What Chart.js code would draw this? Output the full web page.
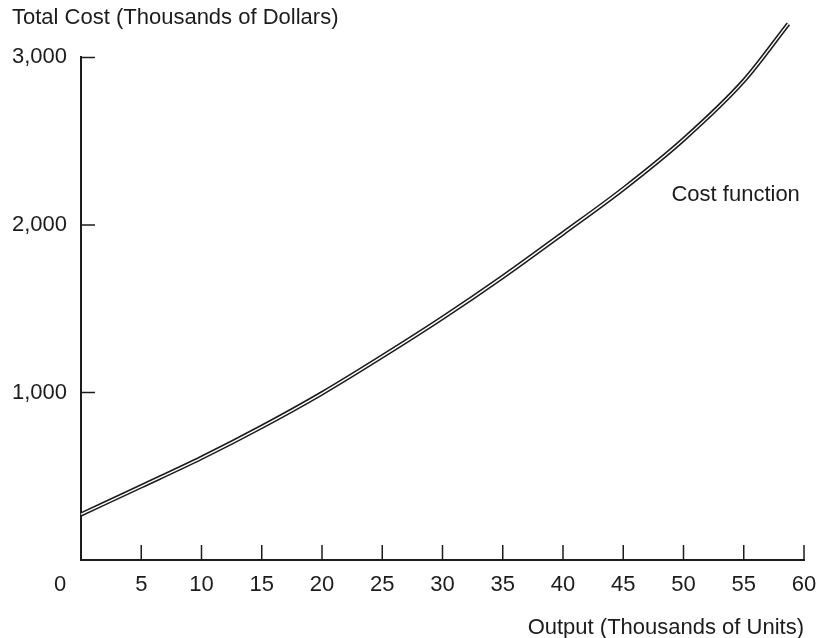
<!DOCTYPE html>
<html>
<head>
<meta charset="utf-8">
<script src="https://cdn.jsdelivr.net/npm/chart.js@4.4.0/dist/chart.umd.min.js"></script>
<style>
body { margin: 0; background: #fff; }
</style>
</head>
<body>
<canvas id="cost-chart" width="817" height="638"></canvas>
<script>
// values (thousands of units / thousands of dollars)
var output = [0, 5, 10, 15, 20, 25, 30, 35, 40, 45, 50, 55, 58.7];
var totalCost = [272, 440, 610, 795, 995, 1215, 1445, 1690, 1950, 2215, 2510, 2860, 3200];
var xTicks = [0, 5, 10, 15, 20, 25, 30, 35, 40, 45, 50, 55, 60];
var yTicks = [0, 1000, 2000, 3000];
var curveLabel = 'Cost function';
var curveLabelAt = [49, 2180];

var ink = '#1c1c1c';
var font = { family: '"Liberation Sans", Arial, Helvetica, sans-serif', size: 22 };
var fontCss = '22px "Liberation Sans", Arial, Helvetica, sans-serif';

var points = output.map(function(x, i) {
    return { x: x, y: totalCost[i] };
});

// ticks point inward, plus the shared "0" and the curve label
var extras = {
    id: 'extras',
    afterDraw: function(chart) {
        var c = chart.ctx;
        var xs = chart.scales.x;
        var ys = chart.scales.y;
        var area = chart.chartArea;
        c.save();
        c.strokeStyle = ink;
        c.lineWidth = 1.5;
        c.beginPath();
        xTicks.forEach(function(v) {
            if (v === 0) return;
            var px = xs.getPixelForValue(v);
            c.moveTo(px, area.bottom);
            c.lineTo(px, area.bottom - 15);
        });
        yTicks.forEach(function(v) {
            if (v === 0) return;
            var py = ys.getPixelForValue(v);
            c.moveTo(area.left, py);
            c.lineTo(area.left + 14, py);
        });
        c.stroke();

        c.fillStyle = ink;
        c.font = fontCss;
        c.textBaseline = 'middle';
        c.textAlign = 'center';
        c.fillText('0', area.left - 21, area.bottom + 25);
        c.textAlign = 'left';
        c.fillText(curveLabel, xs.getPixelForValue(curveLabelAt[0]), ys.getPixelForValue(curveLabelAt[1]));
        c.restore();
    }
};

var ctx = document.getElementById('cost-chart');
var costChart = new Chart(ctx, {
    type: 'line',
    data: {
        datasets: [{
            // white core, drawn on top of the dark outline
            label: 'inner',
            data: points,
            borderColor: '#ffffff',
            borderWidth: 1.4,
            pointRadius: 0,
            cubicInterpolationMode: 'monotone',
            clip: false
        }, {
            label: 'Cost function',
            data: points,
            borderColor: ink,
            borderWidth: 4.5,
            pointRadius: 0,
            cubicInterpolationMode: 'monotone',
            clip: false
        }]
    },
    options: {
        responsive: false,
        animation: false,
        layout: { padding: { left: 12, right: 2, top: 0, bottom: 0 } },
        plugins: {
            legend: { display: false },
            tooltip: { enabled: false },
            title: {
                display: true,
                text: 'Total Cost (Thousands of Dollars)',
                align: 'start',
                color: ink,
                font: { family: font.family, size: 22, weight: 'normal' },
                padding: { top: 5, bottom: 26 }
            }
        },
        scales: {
            x: {
                type: 'linear',
                min: 0,
                max: 60,
                afterBuildTicks: function(scale) {
                    scale.ticks = xTicks.map(function(v) { return { value: v }; });
                },
                afterFit: function(scale) {
                    scale.height = 78;
                    scale.paddingRight = 13;
                },
                grid: { display: false, drawTicks: false },
                border: { display: true, color: ink, width: 2 },
                ticks: {
                    color: ink,
                    font: font,
                    padding: 12,
                    maxRotation: 0,
                    callback: function(v) { return v === 0 ? '' : v; }
                },
                title: {
                    display: true,
                    text: 'Output (Thousands of Units)',
                    align: 'end',
                    color: ink,
                    font: font,
                    padding: { top: 12, bottom: -3 }
                }
            },
            y: {
                min: 0,
                max: 3000,
                afterBuildTicks: function(scale) {
                    scale.ticks = yTicks.map(function(v) { return { value: v }; });
                },
                afterFit: function(scale) { scale.width = 69; },
                grid: { display: false, drawTicks: false },
                border: { display: true, color: ink, width: 2 },
                ticks: {
                    color: ink,
                    font: font,
                    padding: 14,
                    callback: function(v) { return v === 0 ? '' : v.toLocaleString('en-US'); }
                }
            }
        }
    },
    plugins: [extras]
});
</script>
</body>
</html>
